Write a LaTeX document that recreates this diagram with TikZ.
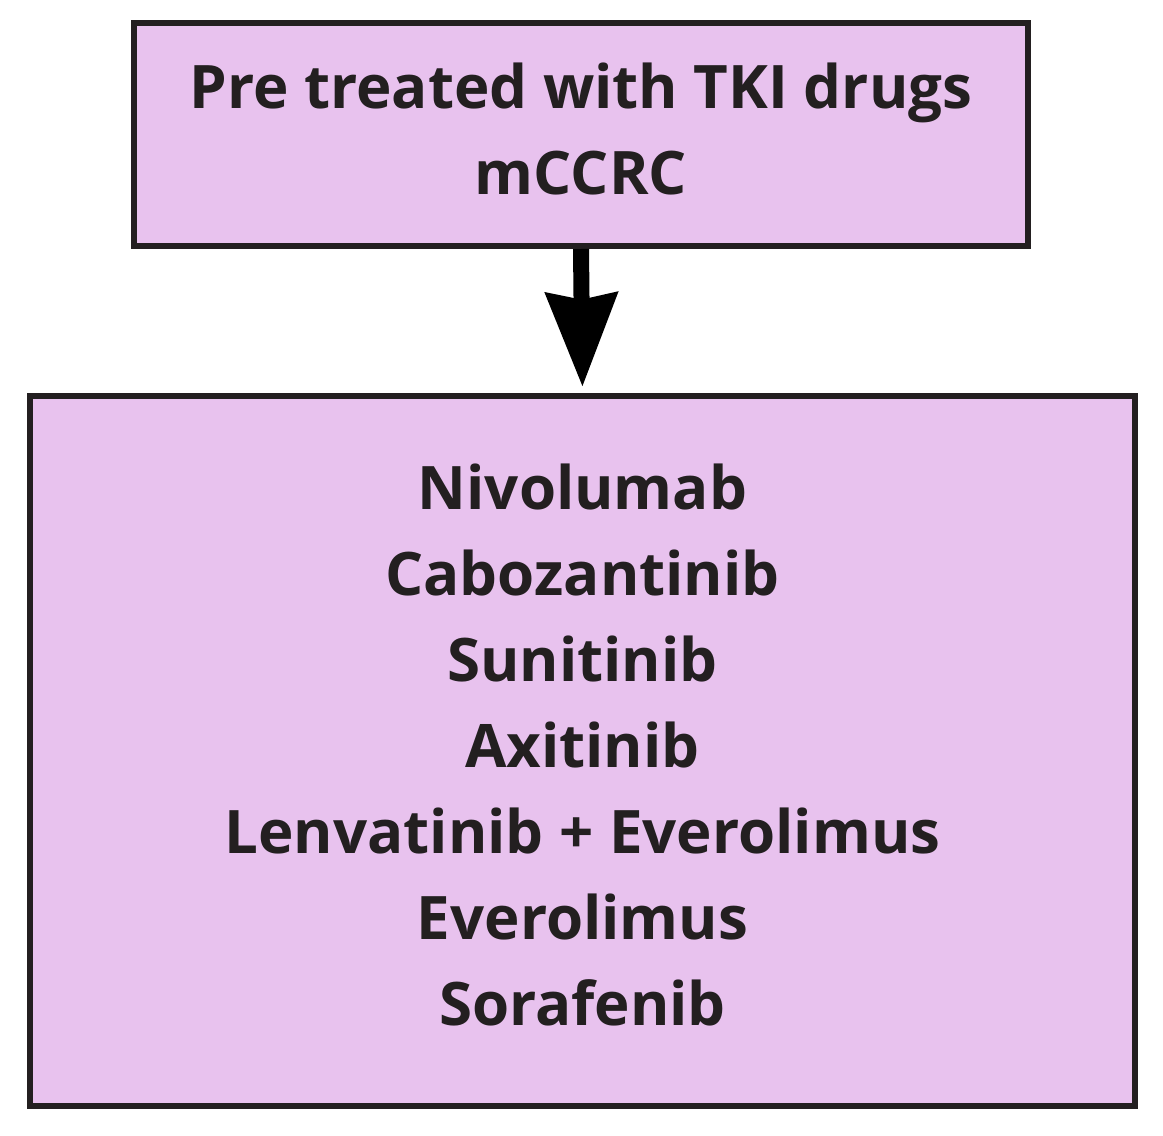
\documentclass[tikz,border=0pt]{standalone}
\usepackage{fontspec}
\setmainfont{Open Sans}
\usetikzlibrary{arrows.meta}
\definecolor{boxfill}{HTML}{E8C2EE}
\definecolor{ink}{HTML}{231F20}
\begin{document}
\begin{tikzpicture}[x=0.75pt,y=-0.75pt,
  box/.style={draw=ink, line width=4.5pt, fill=boxfill, inner sep=0pt, align=center,
    font=\fontsize{45}{64.5}\selectfont\bfseries, text=ink},
  link/.style={line width=12pt, line cap=butt, black,
    -{Stealth[length=70pt,width=52.5pt,inset=4.5pt]}}]
\useasboundingbox (0,0) rectangle (1163,1135);
\fill[white] (0,0) rectangle (1163,1135);
\node[box, minimum width=670.5pt, minimum height=167.25pt] (top) at (581,134.5)
  {Pre treated with TKI drugs\\mCCRC\rule[-9pt]{0pt}{0pt}};
\node[box, minimum width=828.75pt, minimum height=532.5pt] (bot) at (582.5,751)
  {Nivolumab\\Cabozantinib\\Sunitinib\\Axitinib\\Lenvatinib + Everolimus\\Everolimus\\Sorafenib\rule[-9pt]{0pt}{0pt}};
\draw[link, shorten >=4.5pt] (top.south) -- (bot.north);
\end{tikzpicture}
\end{document}
